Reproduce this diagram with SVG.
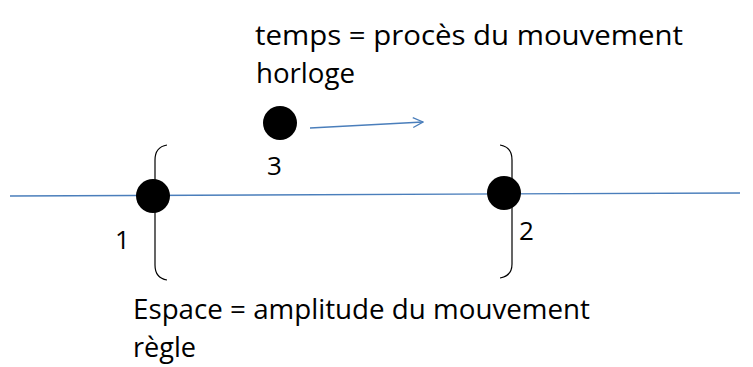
<svg xmlns="http://www.w3.org/2000/svg" width="753" height="367" viewBox="0 0 753 367">
<defs>
<style>
.t{font-family:"Open Sans","Liberation Sans",sans-serif;font-size:28px;fill:#000}
.n{font-family:"Open Sans","Liberation Sans",sans-serif;font-size:26px;fill:#000}
.ln{stroke:#4a7ebb;stroke-width:1.3;fill:none}
.br{stroke:#000;stroke-width:1.2;fill:none}
.dot{fill:#000}
</style>
<marker id="arr" markerWidth="12" markerHeight="12" refX="11" refY="6" orient="auto" markerUnits="userSpaceOnUse">
<path d="M1,1 L11,6 L1,11" class="ln"/>
</marker>
</defs>
<rect width="753" height="367" fill="#fff"/>
<g id="connectors">
<line x1="10" y1="196" x2="740" y2="193" class="ln"/>
<line x1="310" y1="128" x2="423" y2="122" class="ln" marker-end="url(#arr)"/>
</g>
<g id="bracket-left"><path d="M167,145 Q155,147 155,160 L155,265 Q155,278 167,280" class="br"/></g>
<g id="bracket-right"><path d="M500,145 Q512,147 512,160 L512,264 Q512,276 500,278" class="br"/></g>
<g id="node1"><circle cx="153" cy="196" r="17" class="dot"/><text x="115" y="249" class="n">1</text></g>
<g id="node2"><circle cx="504" cy="193" r="17" class="dot"/><text x="519" y="240" class="n">2</text></g>
<g id="node3"><circle cx="280" cy="123" r="17" class="dot"/><text x="267" y="175" class="n">3</text></g>
<g id="label-temps">
<text x="255" y="45" class="t" textLength="428" lengthAdjust="spacingAndGlyphs">temps = procès du mouvement</text>
<text x="256" y="83" class="t" textLength="99" lengthAdjust="spacingAndGlyphs">horloge</text>
</g>
<g id="label-espace">
<text x="133" y="319" class="t" textLength="457" lengthAdjust="spacingAndGlyphs">Espace = amplitude du mouvement</text>
<text x="133" y="357" class="t" textLength="63" lengthAdjust="spacingAndGlyphs">règle</text>
</g>
</svg>
